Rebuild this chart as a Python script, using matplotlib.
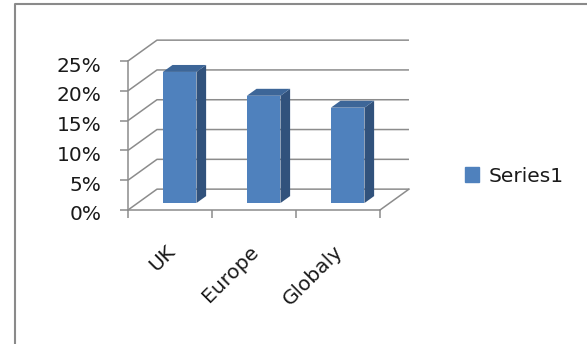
import matplotlib.pyplot as plt
from matplotlib.lines import Line2D
from matplotlib.patches import Rectangle
from matplotlib.ticker import PercentFormatter
from matplotlib.transforms import ScaledTranslation

categories = ["UK", "Europe", "Globaly"]
values = [0.22, 0.18, 0.16]
series_name = "Series1"
y_ticks = [0, 0.05, 0.10, 0.15, 0.20, 0.25]

W, H = 587, 344
front_col = "#4F81BD"
side_col = "#31527C"
top_col = "#3D6698"
grid_col = "#8C8C8C"
text_col = "#1a1a1a"
fs = 14.5

# oblique depth offset (data units) for the fake 3D
dx, dy = 0.345, 0.035
z0, z1 = 1 / 3, 2 / 3
bar_w = 0.4

plt.rcParams['font.family'] = ['DejaVu Sans']

fig = plt.figure(figsize=(W / 100, H / 100), dpi=100)
fig.patch.set_facecolor("white")

# outer chart frame, only top and left edges are in the picture
fig.add_artist(Line2D([15 / W, 15 / W, 1.05], [-0.05, (H - 4) / H, (H - 4) / H],
                      transform=fig.transFigure, color="#8A8A8A", lw=1.5))

ax = fig.add_axes([128 / W, (H - 210) / H, (380 - 128) / W, (210 - 61) / H])
ax.set_xlim(0, len(categories))
ax.set_ylim(0, 0.25)
ax.patch.set_alpha(0)

for s in ["top", "right"]:
    ax.spines[s].set_visible(False)
for s in ["left", "bottom"]:
    ax.spines[s].set_color(grid_col)
    ax.spines[s].set_linewidth(1.1)

ax.set_yticks(y_ticks)
ax.yaxis.set_major_formatter(PercentFormatter(xmax=1, decimals=0))
ax.tick_params(axis="y", length=6, width=1.1, color=grid_col, labelsize=fs,
               labelcolor=text_col, pad=13)
shift = ScaledTranslation(0, -3 / 100, fig.dpi_scale_trans)
for lbl in ax.get_yticklabels():
    lbl.set_transform(lbl.get_transform() + shift)

n = len(categories)
ax.set_xticks([i + 0.5 for i in range(n)])
ax.set_xticklabels(categories, rotation=45, ha="right", va="top", rotation_mode="anchor",
                   fontsize=fs, color=text_col)
ax.tick_params(axis="x", which="major", length=0, pad=23)
ax.set_xticks(range(n + 1), minor=True)
ax.tick_params(axis="x", which="minor", length=6, width=1.1, color=grid_col)
xshift = ScaledTranslation(-5 / 100, 0, fig.dpi_scale_trans)
for lbl in ax.get_xticklabels():
    lbl.set_transform(lbl.get_transform() + xshift)

# walls: gridlines from front left edge, across back wall
for v in y_ticks:
    ax.plot([0, dx, n + dx], [v, v + dy, v + dy], color=grid_col, lw=1.1, clip_on=False,
            solid_capstyle="butt", zorder=1)
# floor right edge
ax.plot([n, n + dx], [0, dy], color=grid_col, lw=1.1, clip_on=False, zorder=1)

# bars
for i, v in enumerate(values):
    x0 = i + 0.5 - bar_w / 2
    x1 = i + 0.5 + bar_w / 2
    fx0, fx1 = x0 + dx * z0, x1 + dx * z0
    bx0, bx1 = x0 + dx * z1, x1 + dx * z1
    fb, bb = dy * z0, dy * z1
    ax.fill([fx1, bx1, bx1, fx1], [fb, bb, v + bb, v + fb], color=side_col, lw=0,
            clip_on=False, zorder=3)
    ax.fill([fx0, fx1, bx1, bx0], [v + fb, v + fb, v + bb, v + bb], color=top_col, lw=0,
            clip_on=False, zorder=3)
    ax.fill([fx0, fx1, fx1, fx0], [fb, fb, v + fb, v + fb], color=front_col, lw=0,
            clip_on=False, zorder=4)

# legend
handle = Rectangle((0, 0), 1, 1, color=front_col)
fig.legend([handle], [series_name], loc="center left", bbox_to_anchor=(447 / W, (H - 176) / H),
           frameon=False, fontsize=fs, handlelength=0.7, handleheight=0.7,
           handletextpad=0.45, labelcolor=text_col)

fig.savefig("out.png", dpi=100)
